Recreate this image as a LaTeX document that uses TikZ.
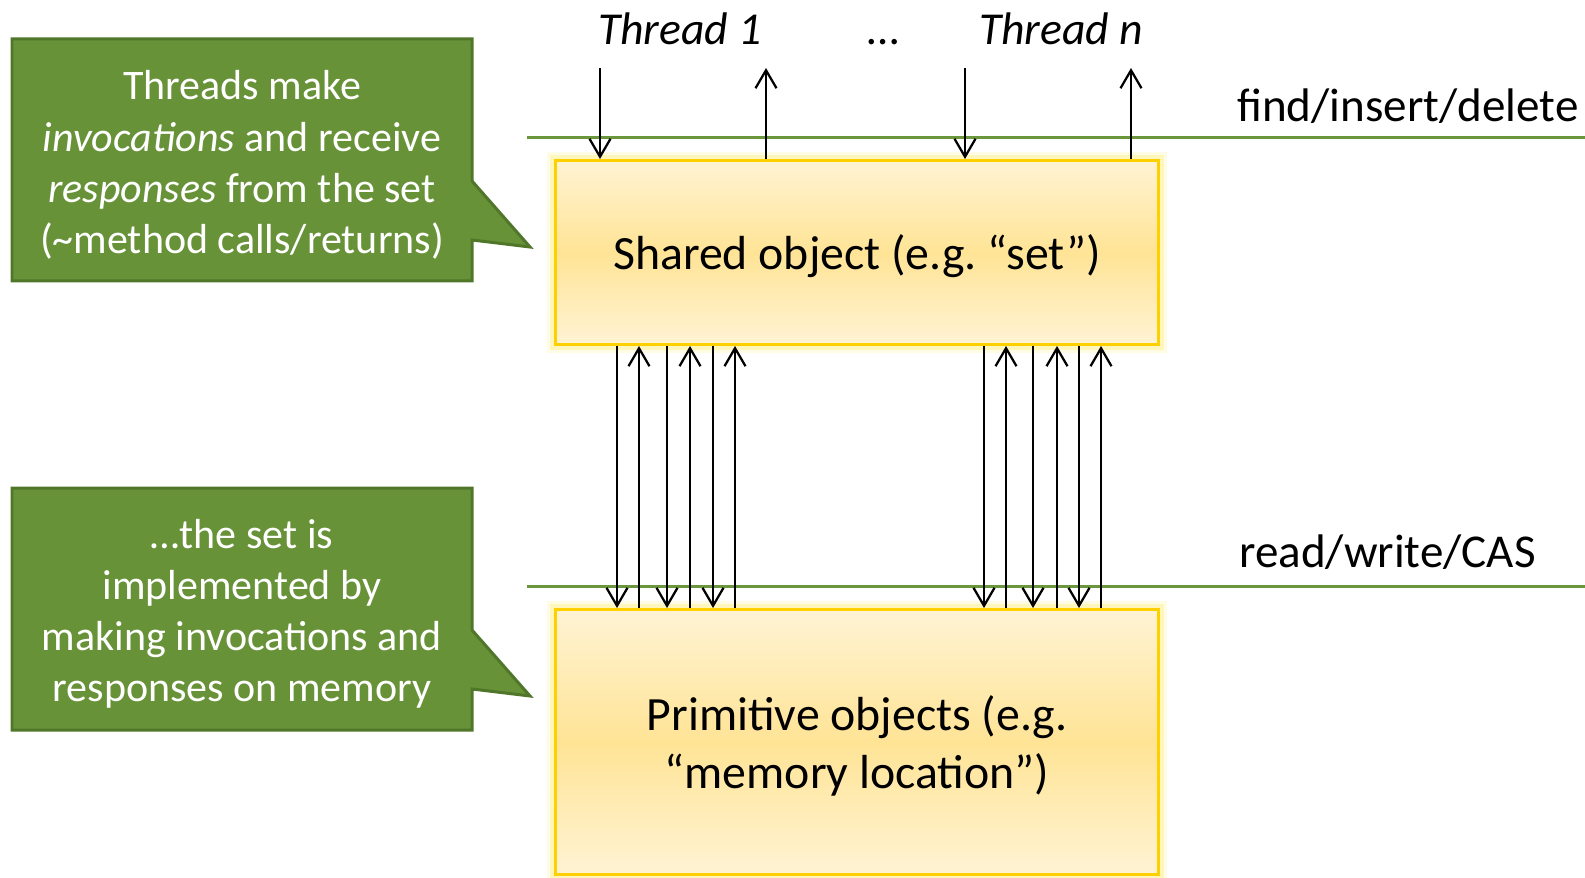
\documentclass[tikz,border=0pt]{standalone}
\usepackage{fontspec}
\setmainfont{Carlito}
\usetikzlibrary{arrows.meta}
\definecolor{notegreen}{RGB}{103,146,56}
\definecolor{noteedge}{RGB}{80,118,42}
\definecolor{rulegreen}{RGB}{106,150,60}
\definecolor{boxedge}{RGB}{255,208,0}
\definecolor{boxlight}{RGB}{255,243,212}
\definecolor{boxmid}{RGB}{255,228,150}
\definecolor{boxglow}{RGB}{255,232,90}
\begin{document}
\begin{tikzpicture}[x=0.02cm, y=-0.02cm,
		objbox/.style={draw=boxedge, line width=0.06cm, top color=boxlight, bottom color=boxlight, middle color=boxmid,
			minimum width=12.06cm, align=center, text depth=0pt, font=\fontsize{27.2}{32.6}\selectfont,
			preaction={draw=boxglow, line width=0.34cm, opacity=0.15},
			preaction={draw=boxglow, line width=0.22cm, opacity=0.3}},
		notefill/.style={fill=notegreen, draw=noteedge, line width=0.06cm, line join=miter},
		notetext/.style={text=white, align=center, font=\fontsize{23.9}{29.1}\selectfont},
		lbl/.style={font=\fontsize{26.8}{32}\selectfont, inner sep=0pt},
		thr/.style={font=\fontsize{26}{31}\selectfont\itshape, inner sep=0pt},
		rule/.style={draw=rulegreen, line width=0.06cm},
		arr/.style={-{Straight Barb[length=0.36cm, width=0.42cm]}, line width=0.045cm}]
	\useasboundingbox (0,0) rectangle (1585,878);
	% objects
	\node[objbox, minimum height=3.68cm] (shared) at (857,252.5) {Shared object (e.g.\ “set”)};
	\node[objbox, minimum height=5.3cm] (prim) at (857,742) {Primitive objects (e.g.\\“memory location”)};
	
	% interface lines
	\draw[rule] (527,138) -- (1585,138);
	\draw[rule] (527,586) -- (1585,586);
	\node[lbl, anchor=base west] (ops1) at (1237,121.5) {find/insert/delete};
	\node[lbl, anchor=base west] (ops2) at (1239,567) {read/write/CAS};
	
	% threads
	\node[thr, anchor=base] (th1) at (680,45) {Thread 1};
	\node[anchor=base, font=\fontsize{26}{31}\selectfont, inner sep=0pt] (dots) at (883,45) {…};
	\node[thr, anchor=base] (thn) at (1061,45) {Thread n};
	\foreach \x [count=\p] in {600,965} {
		\coordinate (in\p) at (\x,68);
		\draw[arr] (in\p) -- (in\p |- shared.north);
	};
	\foreach \x [count=\p] in {766,1131} {
		\coordinate (out\p) at (\x,68);
		\draw[arr] (out\p |- shared.north) -- (out\p);
	};
	
	% memory operations
	\foreach \x in {617,667,713,984,1033,1079} {
		\draw[arr] (\x,0 |- shared.south) -- (\x,0 |- prim.north);
	};
	\foreach \x in {639,690,735,1006,1057,1101} {
		\draw[arr] (\x,0 |- prim.north) -- (\x,0 |- shared.south);
	};
	
	% callouts
	\draw[notefill] (12,39) -- (472,39) -- (472,181) -- (530,247) -- (472,240) -- (472,281) -- (12,281) -- cycle;
	\node[notetext] (note1) at (242,165) {Threads make\\\textit{invocations} and receive\\\textit{responses} from the set\\(\textasciitilde method calls/returns)};
	\draw[notefill] (12,488) -- (472,488) -- (472,630) -- (530,696) -- (472,689) -- (472,730) -- (12,730) -- cycle;
	\node[notetext] (note2) at (242,614) {…the set is\\implemented by\\making invocations and\\responses on memory};
\end{tikzpicture}
\end{document}
